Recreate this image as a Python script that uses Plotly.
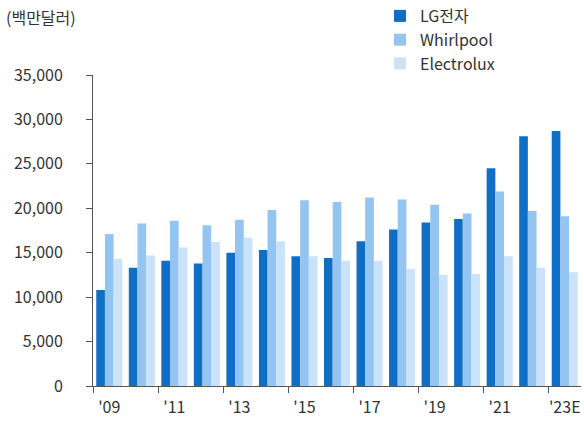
import plotly.graph_objects as go

years = ["'09", "'10", "'11", "'12", "'13", "'14", "'15", "'16", "'17", "'18",
         "'19", "'20", "'21", "'22", "'23E"]
lg = [10800, 13300, 14100, 13800, 15000, 15300, 14600, 14400, 16300, 17600,
      18400, 18800, 24500, 28100, 28700]
whirlpool = [17100, 18300, 18600, 18100, 18700, 19800, 20900, 20700, 21200, 21000,
             20400, 19400, 21900, 19700, 19100]
electrolux = [14300, 14700, 15600, 16200, 16700, 16300, 14600, 14100, 14100, 13200,
              12500, 12600, 14600, 13300, 12800]
series_names = ["LG전자", "Whirlpool", "Electrolux"]
y_ticks = [0, 5000, 10000, 15000, 20000, 25000, 30000, 35000]
unit_label = "(백만달러)"

colors = ["#0F6FC6", "#93C4F2", "#CAE2FA"]
FONT = "Noto Sans CJK KR"
W, H, L, R, T, B = 584, 423, 93, 3, 75, 37
PW, PH = W - L - R, H - T - B

idx = list(range(len(years)))
fig = go.Figure()
for name, vals, c in zip(series_names, [lg, whirlpool, electrolux], colors):
    fig.add_trace(go.Bar(x=idx, y=vals, name=name, marker=dict(color=c, line=dict(width=0))))
fig.add_trace(go.Scatter(x=[0], y=[0], xaxis="x2", mode="markers", marker=dict(opacity=0),
                         showlegend=False, hoverinfo="skip"))

boundaries = [i - 0.5 for i in idx[::2]]
fig.update_layout(
    width=W, height=H,
    margin=dict(l=L, r=R, t=T, b=B, autoexpand=False),
    paper_bgcolor="white", plot_bgcolor="white",
    barmode="group", bargap=0.2, bargroupgap=0,
    font=dict(family=FONT, size=16, color="#333333"),
    showlegend=True,
    legend=dict(x=(380 - L) / PW, y=1 + (T + 1) / PH, xanchor="left", yanchor="top",
                font=dict(size=16, color="#333333"), tracegroupgap=0,
                itemwidth=30, bgcolor="rgba(0,0,0,0)"),
    xaxis=dict(range=[-0.5, len(years) - 0.5], tickmode="array", tickvals=boundaries,
               showticklabels=False, ticks="outside", ticklen=6, tickcolor="#555555",
               showline=True, linecolor="#555555", linewidth=1, showgrid=False, zeroline=False),
    xaxis2=dict(range=[-0.5, len(years) - 0.5], overlaying="x", anchor="y", side="bottom",
                tickmode="array", tickvals=idx[::2], ticktext=years[::2], ticks="",
                showline=False, showgrid=False, zeroline=False, ticklabelstandoff=10,
                tickfont=dict(size=16, color="#333333")),
    yaxis=dict(range=[0, 35000], tickmode="array", tickvals=y_ticks,
               ticktext=[f"{v:,}" for v in y_ticks], ticks="outside", ticklen=6,
               tickcolor="#555555", showline=True, linecolor="#555555", linewidth=1,
               showgrid=False, zeroline=False, ticklabelstandoff=20,
               tickfont=dict(size=16, color="#333333")),
)
fig.add_annotation(text=unit_label, xref="paper", yref="paper",
                   x=(4 - L) / PW, y=1 + (T - 17) / PH,
                   xanchor="left", yanchor="middle", showarrow=False,
                   font=dict(size=16, color="#333333"))
fig.write_html("out.html")
